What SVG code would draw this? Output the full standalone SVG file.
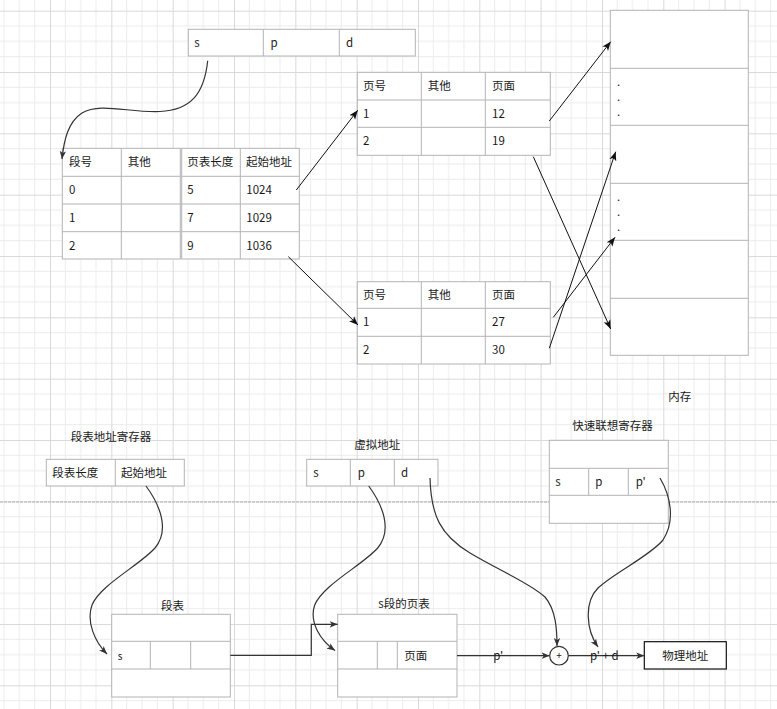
<svg xmlns="http://www.w3.org/2000/svg" width="777" height="709" viewBox="0 0 777 709">
<style>
.t{font-family:"Noto Sans CJK SC","Liberation Sans",sans-serif;font-size:11.5px;fill:#1a1a1a}
.sm{font-size:10px}
.mid{text-anchor:middle}
.box{fill:#fff;stroke:#b3b3b3;stroke-width:1}
.ln{fill:none;stroke:#b3b3b3;stroke-width:1}
.bk{fill:none;stroke:#111;stroke-width:1}
.dk{fill:none;stroke:#333;stroke-width:1.2}
</style>
<defs>
<pattern id="grid" x="50" y="10.67" width="61.33" height="61.33" patternUnits="userSpaceOnUse">
<path d="M15.33,0V61.33M30.67,0V61.33M46,0V61.33M0,15.33H61.33M0,30.67H61.33M0,46H61.33" stroke="#ececec" stroke-width="1" fill="none"/>
<path d="M0.5,0V61.33M0,0.5H61.33" stroke="#d9d9d9" stroke-width="1" fill="none"/>
</pattern>
<marker id="ab" viewBox="0 0 10 10" refX="10" refY="5" markerWidth="9" markerHeight="9" orient="auto" markerUnits="userSpaceOnUse">
<path d="M0,1 L10,5 L0,9 L2.5,5 z" fill="#111"/>
</marker>
<marker id="ad" viewBox="0 0 10 10" refX="10" refY="5" markerWidth="8" markerHeight="8" orient="auto" markerUnits="userSpaceOnUse">
<path d="M0,1 L10,5 L0,9 L2.5,5 z" fill="#333"/>
</marker>
</defs>
<rect width="777" height="709" fill="#fff"/>
<rect width="777" height="709" fill="url(#grid)"/>
<line x1="0" y1="502" x2="777" y2="502" stroke="#b0b0b0" stroke-width="1" stroke-dasharray="3,1"/>

<g id="addr-top">
<rect class="box" x="188.3" y="29.3" width="227" height="26.7"/>
<path class="ln" d="M263.3,29.3V56M339.3,29.3V56"/>
<text class="t" x="194.3" y="46.5">s</text>
<text class="t" x="270.5" y="46.5">p</text>
<text class="t" x="346" y="46.5">d</text>
</g>

<g id="seg-table-left">
<rect class="box" x="62.3" y="148.3" width="118" height="110.7"/>
<path class="ln" d="M62.3,176.3H180.3M62.3,204H180.3M62.3,231.7H180.3M121.3,148.3V259"/>
<text class="t" x="69" y="166.3">段号</text>
<text class="t" x="127.7" y="166.3">其他</text>
<text class="t" x="69" y="194.2">0</text>
<text class="t" x="69" y="221.8">1</text>
<text class="t" x="69" y="249.5">2</text>
</g>

<g id="seg-table-right">
<rect class="box" x="181.7" y="148.3" width="117.6" height="110.7"/>
<path class="ln" d="M181.7,176.3H299.3M181.7,204H299.3M181.7,231.7H299.3M240.3,148.3V259"/>
<text class="t" x="187.3" y="166.3">页表长度</text>
<text class="t" x="246" y="166.3">起始地址</text>
<text class="t" x="187.3" y="194.2">5</text>
<text class="t" x="246.3" y="194.2">1024</text>
<text class="t" x="187.3" y="221.8">7</text>
<text class="t" x="246.3" y="221.8">1029</text>
<text class="t" x="187.3" y="249.5">9</text>
<text class="t" x="246.3" y="249.5">1036</text>
</g>

<g id="page-table-1">
<rect class="box" x="357.3" y="72.3" width="193" height="83"/>
<path class="ln" d="M357.3,100H550.3M357.3,127.3H550.3M421.3,72.3V155.3M485.3,72.3V155.3"/>
<text class="t" x="363" y="90.2">页号</text>
<text class="t" x="427.7" y="90.2">其他</text>
<text class="t" x="492" y="90.2">页面</text>
<text class="t" x="363" y="117.7">1</text>
<text class="t" x="492" y="117.7">12</text>
<text class="t" x="363" y="145.3">2</text>
<text class="t" x="492" y="145.3">19</text>
</g>

<g id="page-table-2">
<rect class="box" x="357.3" y="281.7" width="193" height="82.3"/>
<path class="ln" d="M357.3,308.3H550.3M357.3,336.3H550.3M421.3,281.7V364M485.3,281.7V364"/>
<text class="t" x="363" y="299">页号</text>
<text class="t" x="427.7" y="299">其他</text>
<text class="t" x="492" y="299">页面</text>
<text class="t" x="363" y="326.3">1</text>
<text class="t" x="492" y="326.3">27</text>
<text class="t" x="363" y="354.2">2</text>
<text class="t" x="492" y="354.2">30</text>
</g>

<g id="memory">
<rect class="box" x="610.3" y="10.3" width="138" height="345"/>
<path class="ln" d="M610.3,68.3H748.3M610.3,125.3H748.3M610.3,183.3H748.3M610.3,240.3H748.3M610.3,298.3H748.3"/>
<text class="t" x="617" y="86">.</text>
<text class="t" x="617" y="101">.</text>
<text class="t" x="617" y="116">.</text>
<text class="t" x="617" y="201">.</text>
<text class="t" x="617" y="216.3">.</text>
<text class="t" x="617" y="231">.</text>
</g>

<g id="seg-reg">
<text class="t" x="70.7" y="440.7">段表地址寄存器</text>
<rect class="box" x="46.3" y="459.3" width="138" height="26.7"/>
<path class="ln" d="M115.3,459.3V486"/>
<text class="t" x="52.3" y="476.7">段表长度</text>
<text class="t" x="121" y="476.7">起始地址</text>
</g>

<g id="seg-table-b">
<text class="t" x="161" y="610">段表</text>
<rect class="box" x="111.7" y="614.3" width="118.6" height="82.7"/>
<path class="ln" d="M111.7,641.3H230.3M111.7,669H230.3M150.3,641.3V669M190.7,641.3V669"/>
<text class="t sm" x="117.7" y="660">s</text>
</g>

<g id="virtual-addr">
<text class="t" x="354.3" y="449.3">虚拟地址</text>
<rect class="box" x="306.7" y="459.3" width="131.3" height="26.7"/>
<path class="ln" d="M350.3,459.3V486M394.3,459.3V486"/>
<text class="t" x="313.3" y="476.7">s</text>
<text class="t" x="357.7" y="476.7">p</text>
<text class="t" x="401" y="476.7">d</text>
</g>

<g id="page-table-b">
<text class="t" x="378.3" y="608.3">s段的页表</text>
<rect class="box" x="337.7" y="614.3" width="119.3" height="82.7"/>
<path class="ln" d="M337.7,641.3H457M337.7,669H457M377.3,641.3V669M397.3,641.3V669"/>
<text class="t" x="404.3" y="660">页面</text>
</g>

<g id="tlb">
<text class="t" x="668.3" y="401.3">内存</text>
<text class="t" x="572.3" y="430">快速联想寄存器</text>
<rect class="box" x="549.3" y="440.3" width="119" height="83"/>
<path class="ln" d="M549.3,468.3H668.3M549.3,495.3H668.3M588.7,468.3V495.3M628.3,468.3V495.3"/>
<text class="t" x="555.3" y="486.3">s</text>
<text class="t" x="595.3" y="486.3">p</text>
<text class="t" x="635.7" y="486.3">p'</text>
</g>

<g id="phys-addr">
<rect x="644.3" y="641.7" width="82" height="27.3" fill="#fff" stroke="#111" stroke-width="1.2"/>
<text class="t mid" x="685.3" y="660">物理地址</text>
</g>

<g id="connectors">
<path class="dk" d="M207.7,60.7 C204,95 190,110 160,111.5 C130,113 100,102 82,113 C68,122 64,140 62,159" marker-end="url(#ad)"/>
<line class="bk" x1="296.3" y1="190" x2="357.7" y2="110.3" marker-end="url(#ab)"/>
<line class="bk" x1="288.3" y1="256.7" x2="358" y2="325" marker-end="url(#ab)"/>
<line class="bk" x1="549.3" y1="121" x2="610.7" y2="41.7" marker-end="url(#ab)"/>
<line class="bk" x1="533.3" y1="156.7" x2="610.7" y2="329" marker-end="url(#ab)"/>
<line class="bk" x1="553.3" y1="317.3" x2="615" y2="237.3" marker-end="url(#ab)"/>
<line class="bk" x1="549.3" y1="348.3" x2="615.7" y2="151.7" marker-end="url(#ab)"/>
<path class="dk" d="M146,486 C160,505 170,530 155,548 C140,565 100,585 92,605 C86,622 95,642 107,654" marker-end="url(#ad)"/>
<path class="dk" d="M368.7,486 C382.7,505 392.7,530 377.7,548 C362.7,565 322.7,585 314.7,605 C309,622 320,640 335,650.5" marker-end="url(#ad)"/>
<path class="dk" d="M430,478 C431,515 440,535 470,553 C500,571 530,583 545,597 C556,610 557,630 557,646" marker-end="url(#ad)"/>
<path class="dk" d="M660,478 C670,495 676,520 663,540 C650,556 615,572 598,588 C584,602 586,630 598,647" marker-end="url(#ad)"/>
<polyline class="dk" points="230.3,655.3 311.3,655.3 311.3,624.3 337.7,624.3" marker-end="url(#ad)"/>
<line class="dk" x1="457" y1="655.7" x2="549.7" y2="655.7" marker-end="url(#ad)"/>
<line class="dk" x1="568.5" y1="655.7" x2="644.3" y2="655.7" marker-end="url(#ad)"/>
<text class="t" x="493.3" y="660">p'</text>
<text class="t" x="590" y="660">p' + d</text>
</g>

<g id="adder">
<circle cx="559" cy="655.7" r="9.3" fill="#fff" stroke="#333" stroke-width="1.2"/>
<text class="t sm mid" x="559" y="659.3">+</text>
</g>
</svg>
